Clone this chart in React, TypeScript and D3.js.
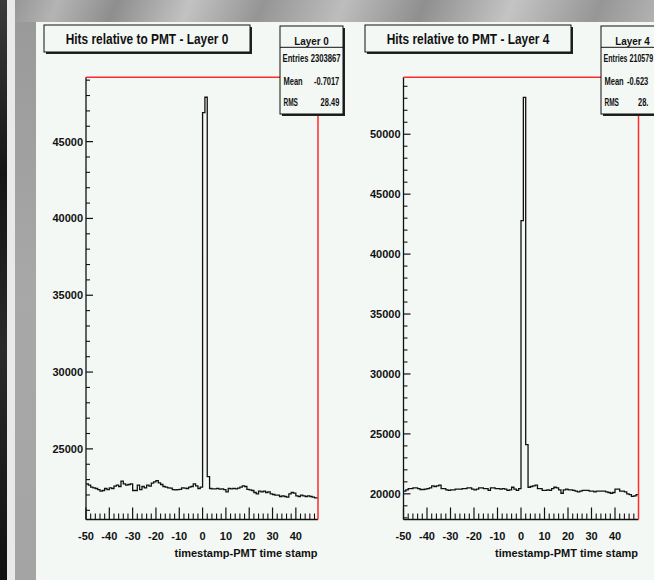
import * as d3 from 'd3';

// ---- data ----
// bin counts, one per 1-unit bin starting at -50
const layer0Counts = [
  22720, 22640, 22510, 22460, 22420, 22350, 22250, 22290, 22420, 22350,
  22460, 22420, 22570, 22640, 22550, 22900, 22720, 22640, 22680, 22720,
  22290, 22290, 22640, 22350, 22550, 22460, 22640, 22570, 22770, 22850,
  22940, 22790, 22680, 22550, 22510, 22460, 22440, 22350, 22330, 22350,
  22370, 22460, 22440, 22420, 22510, 22550, 22720, 22590, 22420, 22510,
  46890, 47890, 23200, 22420, 22400, 22390, 22430, 22380, 22400, 22350,
  22200, 22420, 22390, 22430, 22400, 22440, 22510, 22590, 22550, 22370,
  22330, 22290, 22160, 22070, 22250, 22200, 22250, 22160, 22200, 22070,
  22030, 21990, 21990, 21900, 21940, 21900, 21860, 22070, 22160, 22120,
  21940, 21900, 21990, 21940, 21900, 21940, 21900, 21860, 21810, 21810,
];
const layer4Counts = [
  20220, 20330, 20440, 20440, 20500, 20500, 20440, 20360, 20360, 20390,
  20440, 20500, 20660, 20610, 20660, 20720, 20440, 20440, 20330, 20280,
  20330, 20330, 20390, 20390, 20390, 20440, 20440, 20500, 20500, 20390,
  20330, 20390, 20500, 20500, 20440, 20440, 20280, 20500, 20500, 20440,
  20440, 20390, 20440, 20390, 20280, 20330, 20550, 20390, 20280, 20440,
  42800, 53080, 24110, 20550, 20610, 20660, 20720, 20440, 20440, 20280,
  20280, 20330, 20280, 20440, 20550, 20500, 20330, 20050, 20330, 20390,
  20330, 20330, 20280, 20220, 20160, 20220, 20280, 20280, 20280, 20220,
  20220, 20160, 20220, 20220, 20220, 20220, 20160, 20110, 20050, 20110,
  20390, 20390, 20220, 20220, 20160, 20000, 19940, 19780, 19830, 19940,
];
const binLow = d3.range(-50, 50);
const xMajorTicks = [-50, -40, -30, -20, -10, 0, 10, 20, 30, 40];
const xMinorTicks = d3.range(-50, 50, 2).filter(v => v % 10 !== 0);

const titles = ['Hits relative to PMT - Layer 0', 'Hits relative to PMT - Layer 4'];
const statNames = ['Layer 0', 'Layer 4'];
const xTitle = 'timestamp-PMT time stamp';
const yDomains = [[20403, 49187], [17858, 54750]];

// ---- layout ----
const W = 654, H = 580;
const TOP = 77.3, BOTTOM = 519.5;
const FONT = "'Liberation Sans', Arial, Helvetica, sans-serif";
const RED = '#ff2b2b';
const PANEL = '#f4f8f5';

const layouts = [
  { x0: 86, x1: 318, xMax: 49.5, tb: [44, 25, 206, 27], sb: [280, 26, 63, 88] },
  { x0: 403.5, x1: 638.5, xMax: 50, tb: [365, 25, 206, 27], sb: [601, 26, 63, 88] },
];

// squeezed ROOT-style text
function SText({ x, y, size = 10, sx = 0.75, anchor = 'start', children }:
  { x: number; y: number; size?: number; sx?: number; anchor?: string; children: any }) {
  return (
    <text transform={`translate(${x},${y}) scale(${sx},1)`} textAnchor={anchor}
      fontFamily={FONT} fontWeight={700} fontSize={size} fill="#111">{children}</text>
  );
}

function StatsBox({ sb, name, children }: { sb: number[]; name: string; children: any }) {
  const [bx, by, bw, bh] = sb;
  return (
    <g>
      <rect x={bx + 2} y={by + 2} width={bw} height={bh} fill="#222" />
      <rect x={bx} y={by} width={bw} height={bh} fill={PANEL} stroke="#111" strokeWidth={1} />
      <line x1={bx} x2={bx + bw} y1={47.3} y2={47.3} stroke="#111" />
      <SText x={bx + bw / 2} y={44.6} size={11} sx={0.9} anchor="middle">{name}</SText>
      {children}
    </g>
  );
}

function Histo({ idx, counts }: { idx: number; counts: number[] }) {
  const L = layouts[idx];
  const x = d3.scaleLinear().domain([-50, L.xMax]).range([L.x0, L.x1]);
  const y = d3.scaleLinear().domain(yDomains[idx]).range([BOTTOM, TOP]);
  const pts: [number, number][] = binLow.map((b, i) => [x(b), y(counts[i])]);
  pts.push([x(binLow[binLow.length - 1] + 1), y(counts[counts.length - 1])]);
  const path = d3.line().curve(d3.curveStepAfter)(pts) || '';
  const [d0, d1] = yDomains[idx];
  const yMajor = d3.range(Math.ceil(d0 / 5000) * 5000, d1, 5000);
  const yMinor = d3.range(Math.ceil(d0 / 1000) * 1000, d1, 1000).filter(v => v % 5000 !== 0);
  const [tx, ty, tw, th] = L.tb;
  const [bx, , bw] = L.sb;
  const clipId = `clip-${idx}`;
  return (
    <g>
      <defs>
        <clipPath id={clipId}>
          <rect x={L.x0} y={TOP} width={L.x1 - L.x0} height={BOTTOM - TOP} />
        </clipPath>
      </defs>
      <path d={path} fill="none" stroke="#111" strokeWidth={1.3} clipPath={`url(#${clipId})`} />
      {/* y axis */}
      <line x1={L.x0} x2={L.x0} y1={TOP} y2={BOTTOM} stroke="#111" strokeWidth={1.3} />
      {yMajor.map(v => (
        <g key={`ym${v}`}>
          <line x1={L.x0} x2={L.x0 + 7} y1={y(v)} y2={y(v)} stroke="#111" strokeWidth={1.2} />
          <text x={L.x0 - 3} y={y(v) + 4} textAnchor="end" fontFamily={FONT} fontWeight={700} fontSize={11} fill="#111">{v}</text>
        </g>
      ))}
      {yMinor.map(v => (
        <line key={`yn${v}`} x1={L.x0} x2={L.x0 + 4} y1={y(v)} y2={y(v)} stroke="#111" strokeWidth={1.1} />
      ))}
      {/* x axis */}
      <line x1={L.x0} x2={L.x1} y1={BOTTOM} y2={BOTTOM} stroke="#111" strokeWidth={1.3} />
      {xMajorTicks.map(v => (
        <g key={`xm${v}`}>
          <line x1={x(v)} x2={x(v)} y1={BOTTOM} y2={BOTTOM - 12} stroke="#111" strokeWidth={1.2} />
          <text x={x(v)} y={540} textAnchor="middle" fontFamily={FONT} fontWeight={700} fontSize={11} fill="#111">{v}</text>
        </g>
      ))}
      {xMinorTicks.map(v => (
        <line key={`xn${v}`} x1={x(v)} x2={x(v)} y1={BOTTOM} y2={BOTTOM - 6} stroke="#111" strokeWidth={1.1} />
      ))}
      <text x={L.x1 - 0.5} y={556.5} textAnchor="end" fontFamily={FONT} fontWeight={700} fontSize={11} fill="#111">{xTitle}</text>
      {/* red frame */}
      <line x1={L.x0} x2={L.x1} y1={TOP} y2={TOP} stroke={RED} strokeWidth={1.5} />
      <line x1={L.x1} x2={L.x1} y1={TOP} y2={BOTTOM} stroke={RED} strokeWidth={1.5} />
      {/* title box */}
      <rect x={tx + 2} y={ty + 2} width={tw} height={th} fill="#222" />
      <rect x={tx} y={ty} width={tw} height={th} fill={PANEL} stroke="#111" strokeWidth={1} />
      <SText x={tx + tw / 2} y={43.5} size={14} sx={0.85} anchor="middle">{titles[idx]}</SText>
      {idx === 0 ? (
        <StatsBox sb={L.sb} name={statNames[0]}>
          <SText x={bx + 2.5} y={62} sx={0.77}>Entries 2303867</SText>
          <SText x={bx + 3.5} y={84.5}>Mean</SText>
          <SText x={bx + bw - 3.7} y={84.5} anchor="end">-0.7017</SText>
          <SText x={bx + 3.5} y={105.8} sx={0.65}>RMS</SText>
          <SText x={bx + bw - 3.7} y={105.8} anchor="end">28.49</SText>
        </StatsBox>
      ) : (
        <StatsBox sb={L.sb} name={statNames[1]}>
          <SText x={bx + 2.5} y={62} sx={0.71}>Entries 210579</SText>
          <SText x={bx + 3.5} y={84.5}>Mean</SText>
          <SText x={627} y={84.5}>-0.623</SText>
          <SText x={bx + 3.5} y={105.8} sx={0.65}>RMS</SText>
          <SText x={638} y={105.8}>28.</SText>
        </StatsBox>
      )}
    </g>
  );
}

export default function App() {
  return (
    <svg width={W} height={H} viewBox={`0 0 ${W} ${H}`}
      style={{ position: 'absolute', left: 0, top: 0, display: 'block' }}>
      <defs>
        <linearGradient id="bgStreak" x1="0" y1="0" x2="1" y2="0.35">
          <stop offset="0" stopColor="#8c8c8c" />
          <stop offset="0.08" stopColor="#b4b4b4" />
          <stop offset="0.16" stopColor="#8e8e8e" />
          <stop offset="0.26" stopColor="#c2c2c2" />
          <stop offset="0.36" stopColor="#959595" />
          <stop offset="0.47" stopColor="#bdbdbd" />
          <stop offset="0.58" stopColor="#8f8f8f" />
          <stop offset="0.7" stopColor="#c4c4c4" />
          <stop offset="0.82" stopColor="#969696" />
          <stop offset="0.92" stopColor="#b8b8b8" />
          <stop offset="1" stopColor="#8a8a8a" />
        </linearGradient>
        <linearGradient id="leftDark" x1="0" y1="0" x2="0" y2="1">
          <stop offset="0" stopColor="#3a3a3a" />
          <stop offset="0.3" stopColor="#151515" />
          <stop offset="0.6" stopColor="#2a2a2a" />
          <stop offset="1" stopColor="#111" />
        </linearGradient>
        <linearGradient id="leftGray" x1="0" y1="0" x2="0" y2="1">
          <stop offset="0" stopColor="#9a9a9a" />
          <stop offset="0.5" stopColor="#a8a8a8" />
          <stop offset="1" stopColor="#a4a4a4" />
        </linearGradient>
      </defs>
      <rect x={0} y={0} width={W} height={H} fill="url(#bgStreak)" />
      <rect x={15} y={22} width={21} height={H - 22} fill="url(#leftGray)" />
      <rect x={7} y={0} width={8} height={H} fill="#e9e9e9" />
      <rect x={0} y={0} width={7} height={H} fill="url(#leftDark)" />
      <rect x={36} y={22} width={W - 36} height={H - 22} fill={PANEL} />
      <Histo idx={0} counts={layer0Counts} />
      <Histo idx={1} counts={layer4Counts} />
    </svg>
  );
}
